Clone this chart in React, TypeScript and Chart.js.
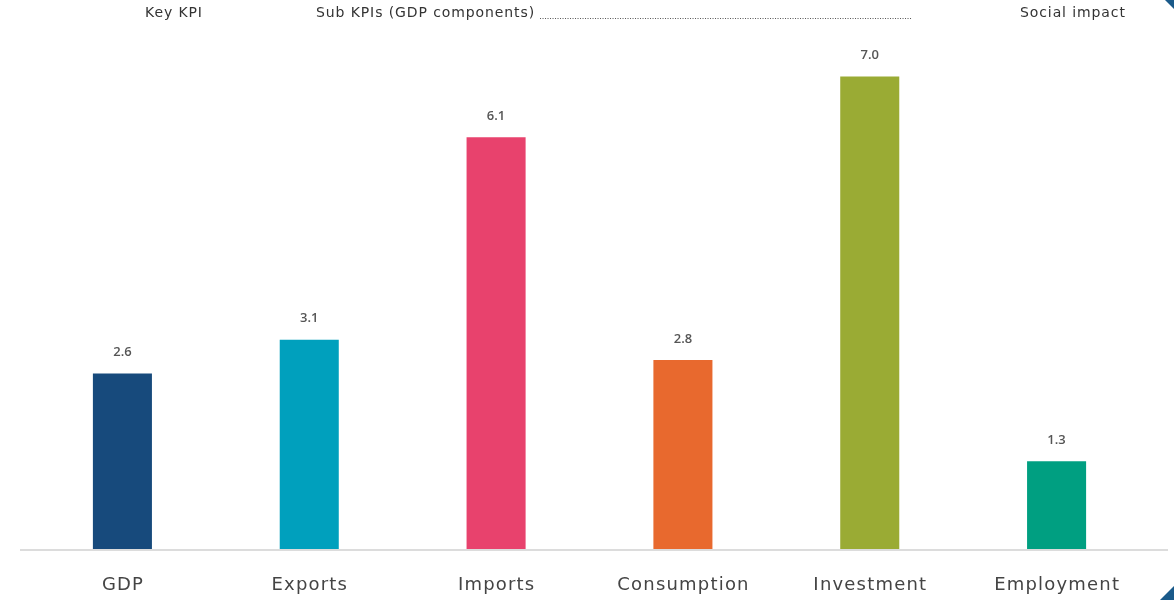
import React, { useEffect, useRef } from "react";
import { Chart, registerables } from "chart.js";

Chart.register(...registerables);

const categories = ["GDP", "Exports", "Imports", "Consumption", "Investment", "Employment"];
const values = [2.6, 3.1, 6.1, 2.8, 7.0, 1.3];
const valueLabels = ["2.6", "3.1", "6.1", "2.8", "7.0", "1.3"];
const barColors = ["#174a7c", "#00a0bd", "#e8426d", "#e8692e", "#9aab34", "#009f81"];
const headerLabels = ["Key KPI", "Sub KPIs (GDP components)", "Social impact"];

const FONT = "'Open Sans', 'Liberation Sans', sans-serif";
const WIDE = "'DejaVu Sans', sans-serif";

const overlayPlugin = {
  id: "overlay",
  afterDatasetsDraw(chart: any) {
    const { ctx } = chart;
    const yScale = chart.scales.y;
    const xScale = chart.scales.x;
    const y0 = yScale.getPixelForValue(0);
    ctx.save();
    // baseline
    ctx.strokeStyle = "#dcdcdc";
    ctx.lineWidth = 2;
    ctx.beginPath();
    ctx.moveTo(20, y0 + 1);
    ctx.lineTo(1168, y0 + 1);
    ctx.stroke();
    // value labels
    const meta = chart.getDatasetMeta(0);
    ctx.fillStyle = "#555";
    ctx.font = `600 13px ${FONT}`;
    ctx.textAlign = "center";
    ctx.textBaseline = "middle";
    meta.data.forEach((bar: any, i: number) => {
      ctx.fillText(valueLabels[i], bar.x, bar.y - 21);
    });
    // category labels
    ctx.fillStyle = "#444";
    ctx.font = `18px ${WIDE}`;
    (ctx as any).letterSpacing = "1.2px";
    categories.forEach((c, i) => {
      ctx.fillText(c, xScale.getPixelForValue(i) + 0.6, 585);
    });
    // headers
    ctx.fillStyle = "#333";
    ctx.font = `14px ${WIDE}`;
    (ctx as any).letterSpacing = "0.9px";
    ctx.textAlign = "left";
    ctx.fillText(headerLabels[0], 145, 13);
    ctx.fillText(headerLabels[1], 316, 13);
    const w = ctx.measureText(headerLabels[1]).width;
    ctx.fillText(headerLabels[2], 1020, 13);
    (ctx as any).letterSpacing = "0px";
    // dotted leader
    ctx.strokeStyle = "#555";
    ctx.lineWidth = 1;
    ctx.setLineDash([1, 1.5]);
    ctx.beginPath();
    ctx.moveTo(316 + w + 5, 18.5);
    ctx.lineTo(912, 18.5);
    ctx.stroke();
    ctx.setLineDash([]);
    ctx.restore();
  },
};

export default function App() {
  const ref = useRef<HTMLCanvasElement | null>(null);
  useEffect(() => {
    if (!ref.current) return;
    const chart = new Chart(ref.current, {
      type: "bar",
      data: {
        labels: categories,
        datasets: [
          {
            data: values,
            backgroundColor: barColors,
            borderWidth: 0,
            categoryPercentage: 1,
            barPercentage: 0.316,
          },
        ],
      },
      options: {
        animation: false,
        responsive: false,
        maintainAspectRatio: false,
        layout: { padding: { left: 29, right: 24, top: 9, bottom: 0 } },
        plugins: { legend: { display: false }, tooltip: { enabled: false } },
        scales: {
          x: {
            grid: { display: false, drawTicks: false },
            border: { display: false },
            ticks: { color: "rgba(0,0,0,0)", font: { family: WIDE, size: 17.5 }, padding: 26, maxRotation: 0 },
            afterFit(scale: any) {
              scale.height = 51;
            },
          },
          y: {
            display: false,
            min: 0,
            max: 8,
          },
        },
      },
      plugins: [overlayPlugin],
    });
    return () => chart.destroy();
  }, []);
  return (
    <div style={{ position: "absolute", left: 0, top: 0, width: 1174, height: 600, background: "#fff", overflow: "hidden" }}>
      <canvas ref={ref} width={1174} height={600} style={{ display: "block" }} />
      <div style={{ position: "absolute", right: 0, top: 0, width: 0, height: 0, borderTop: "9px solid #1a5a8a", borderLeft: "9px solid transparent" }} />
      <div style={{ position: "absolute", right: 0, bottom: 0, width: 0, height: 0, borderBottom: "14px solid #1a5a8a", borderLeft: "14px solid transparent" }} />
    </div>
  );
}
